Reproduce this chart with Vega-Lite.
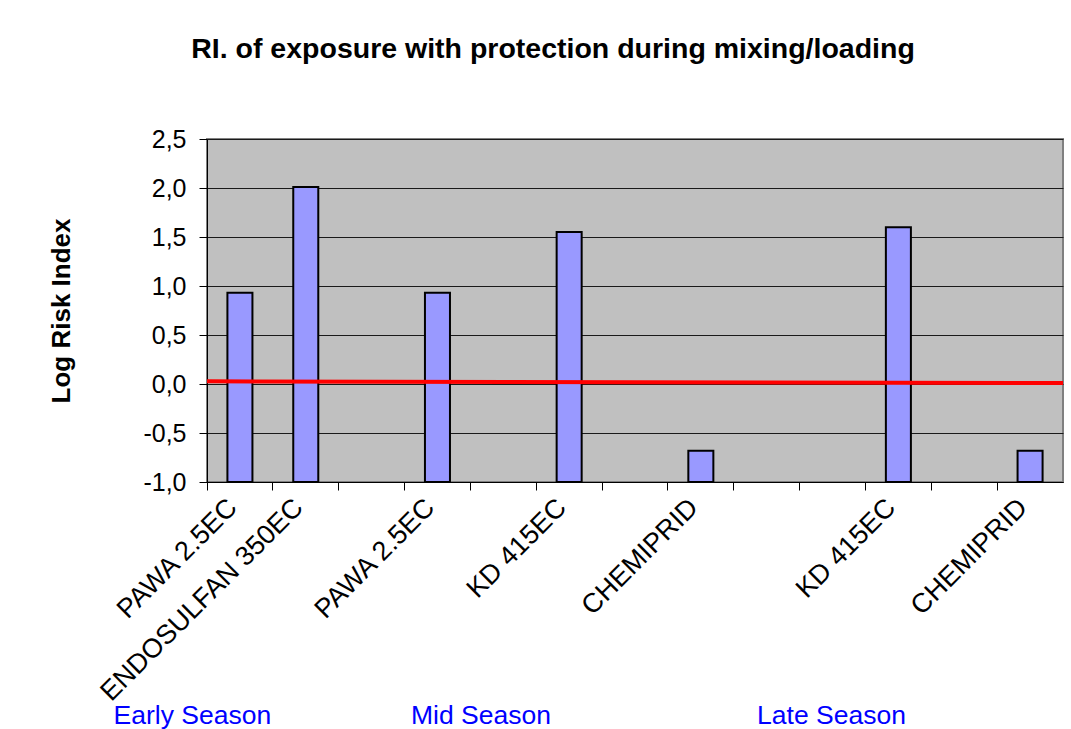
{
  "$schema": "https://vega.github.io/schema/vega-lite/v6.json",
  "autosize": {"type": "none"},
  "width": 856,
  "height": 343,
  "padding": {"left": 207, "top": 139, "right": 8, "bottom": 247},
  "background": "white",
  "title": {
    "text": "RI. of exposure with protection during mixing/loading",
    "fontSize": 28.5,
    "fontWeight": "bold",
    "font": "Liberation Sans",
    "color": "black",
    "anchor": "middle",
    "frame": "group",
    "dx": -82,
    "baseline": "alphabetic",
    "offset": 41
  },
  "datasets": {
    "bars": [
      {"key": "Early|PAWA 2.5EC", "value": 0.93},
      {"key": "Early|ENDOSULFAN 350EC", "value": 2.01},
      {"key": "Mid|PAWA 2.5EC", "value": 0.93},
      {"key": "Mid|KD 415EC", "value": 1.55},
      {"key": "Mid|CHEMIPRID", "value": -0.68},
      {"key": "Late|KD 415EC", "value": 1.6},
      {"key": "Late|CHEMIPRID", "value": -0.68}
    ],
    "ref": [
      {"pos": 0, "value": 0.027},
      {"pos": 13, "value": 0.01}
    ]
  },
  "layer": [
    {
      "data": {"name": "bars"},
      "mark": {"type": "bar", "fill": "#9999FF", "stroke": "black", "strokeWidth": 2, "width": {"band": 0.38}},
      "encoding": {
        "x": {
          "field": "key",
          "type": "nominal",
          "sort": null,
          "scale": {
            "domain": ["Early|PAWA 2.5EC", "Early|ENDOSULFAN 350EC", "gap1", "Mid|PAWA 2.5EC", "gap2", "Mid|KD 415EC", "gap3", "Mid|CHEMIPRID", "gap4", "gap5", "Late|KD 415EC", "gap6", "Late|CHEMIPRID"],
            "paddingInner": 0,
            "paddingOuter": 0
          },
          "axis": {
            "labelExpr": "indexof(datum.value, '|') >= 0 ? split(datum.value, '|')[1] : ''",
            "bandPosition": 0,
            "labelOffset": -7,
            "labelAngle": -45,
            "labelAlign": "right",
            "labelBaseline": "middle",
            "labelFontSize": 27,
            "labelColor": "black",
            "labelPadding": 13,
            "labelLimit": 500,
            "labelFont": "Liberation Sans",
            "tickSize": 8,
            "tickColor": "black",
            "domainColor": "black",
            "domainWidth": 1,
            "grid": false,
            "title": "Early Season\u00a0\u00a0\u00a0\u00a0\u00a0\u00a0\u00a0\u00a0\u00a0\u00a0\u00a0\u00a0\u00a0\u00a0\u00a0\u00a0\u00a0\u00a0\u00a0Mid Season\u00a0\u00a0\u00a0\u00a0\u00a0\u00a0\u00a0\u00a0\u00a0\u00a0\u00a0\u00a0\u00a0\u00a0\u00a0\u00a0\u00a0\u00a0\u00a0\u00a0\u00a0\u00a0\u00a0\u00a0\u00a0\u00a0\u00a0\u00a0Late Season",
            "titleColor": "#0000FF",
            "titleFontSize": 26.5,
            "titleFontWeight": "normal",
            "titleFont": "Liberation Sans",
            "titleAnchor": "start",
            "titleAlign": "left",
            "titleBaseline": "alphabetic",
            "titleX": -94,
            "titleY": 241
          }
        },
        "y": {
          "field": "value",
          "type": "quantitative",
          "scale": {"domain": [-1, 2.5], "nice": false, "zero": false},
          "axis": {
            "values": [-1, -0.5, 0, 0.5, 1, 1.5, 2, 2.5],
            "labelExpr": "replace(replace(format(datum.value, '.1f'), '.', ','), '\u2212', '-')",
            "labelFontSize": 25,
            "labelColor": "black",
            "labelFont": "Liberation Sans",
            "labelPadding": 13,
            "tickSize": 8,
            "tickColor": "black",
            "domainColor": "black",
            "grid": true,
            "gridColor": "#1a1a1a",
            "gridWidth": 1,
            "title": "Log Risk Index",
            "titleFontSize": 26,
            "titleFontWeight": "bold",
            "titleFont": "Liberation Sans",
            "titleColor": "black",
            "titlePadding": 68
          }
        },
        "y2": {"datum": -1}
      }
    },
    {
      "data": {"name": "ref"},
      "mark": {"type": "line", "color": "#FF0000", "strokeWidth": 4},
      "encoding": {
        "x": {"field": "pos", "type": "quantitative", "scale": {"domain": [0, 13], "nice": false, "zero": false}, "axis": null},
        "y": {"field": "value", "type": "quantitative"}
      }
    }
  ],
  "resolve": {"scale": {"x": "independent"}, "axis": {"x": "independent"}},
  "config": {
    "view": {"fill": "#C0C0C0", "stroke": "#808080", "strokeWidth": 2},
    "font": "Liberation Sans"
  }
}
